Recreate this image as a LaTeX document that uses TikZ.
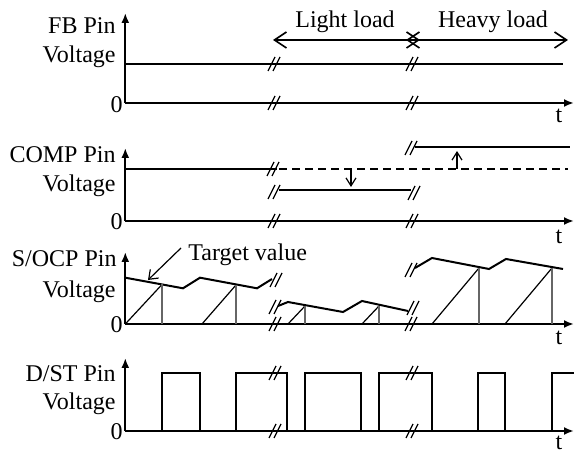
\documentclass[tikz,border=0pt]{standalone}
\usepackage{fontspec}
\setmainfont{Liberation Serif}
\usetikzlibrary{arrows.meta}
\begin{document}
\begin{tikzpicture}[x=0.5pt,y=-0.5pt,
  every node/.style={font=\fontsize{12}{14}\selectfont, inner sep=0pt},
  ax/.style={line width=1pt,-{Latex[length=5pt,width=4pt]}},
  sig/.style={line width=1pt},
  ramp/.style={line width=0.6pt},
  vert/.style={line width=0.6pt, black!60},
  lbl/.style={anchor=base east},
  brk/.pic={\draw[line width=0.6pt] (-6,7)--(1,-7) (-1,7)--(6,-7);},
  loadarr/.style={line width=0.8pt,{Straight Barb[length=6pt,width=8pt]}-{Straight Barb[length=6pt,width=8pt]}},
  shiftarr/.style={line width=0.6pt,-{Straight Barb[length=4pt,width=5pt]}}
]
\useasboundingbox (0,0) rectangle (574,454);

% ---------- Panel 1: FB ----------
\draw[ax] (125.3,103) -- (125.3,13);
\draw[ax] (125.3,103) -- (574,103);
\draw[sig] (125.3,64) -- (563,64);
\pic at (274,64) {brk};
\pic at (412,64) {brk};
\pic at (274,103) {brk};
\pic at (412,103) {brk};
\node[lbl] (fbA) at (116,34) {FB Pin};
\node[lbl] (fbB) at (116,63) {Voltage};
\node[lbl] (fbZ) at (123,113) {0};
\node[anchor=base] (fbT) at (559,123) {t};
\coordinate (la1) at (273,40);
\coordinate (la2) at (420,40);
\coordinate (ha1) at (406,40);
\coordinate (ha2) at (568,40);
\draw[loadarr] (la1) -- (la2);
\draw[loadarr] (ha1) -- (ha2);
\node[anchor=base] (lightL) at (345,28) {Light load};
\node[anchor=base] (heavyL) at (493,28) {Heavy load};

% ---------- Panel 2: COMP ----------
\draw[ax] (125.3,221) -- (125.3,148);
\draw[ax] (125.3,221) -- (574,221);
\draw[sig] (125.3,169) -- (277,169);
\draw[sig, dash pattern=on 4pt off 2.5pt] (279,169) -- (568,169);
\pic at (273,169) {brk};
\draw[sig] (279,190) -- (411,190);
\pic at (274,192) {brk};
\pic at (414,193) {brk};
\draw[sig] (415,147) -- (570,147);
\pic at (411,148) {brk};
\coordinate (dn1) at (351,169);
\coordinate (dn2) at (351,187);
\coordinate (up1) at (457,169);
\coordinate (up2) at (457,151);
\draw[shiftarr] (dn1) -- (dn2);
\draw[shiftarr] (up1) -- (up2);
\pic at (274,221) {brk};
\pic at (412,221) {brk};
\node[lbl] (cpA) at (116,163) {COMP Pin};
\node[lbl] (cpB) at (116,192) {Voltage};
\node[lbl] (cpZ) at (123,230) {0};
\node[anchor=base] (cpT) at (559,244) {t};

% ---------- Panel 3: S/OCP ----------
\draw[ax] (125.3,324) -- (125.3,252);
\draw[ax] (125.3,324) -- (574,324);
% target value line
\draw[sig] (125.3,277.7) -- (183,288.3) -- (200,277.7) -- (257,288.3) -- (272,279);
\pic at (276,280) {brk};
\draw[sig] (278,306) -- (288,302) -- (343,312) -- (362,301) -- (408,311);
\pic at (275,307) {brk};
\pic at (413,308) {brk};
\draw[sig] (415,268) -- (432,258) -- (489,269) -- (506,259) -- (563,269);
\pic at (411,270) {brk};
% ramps
\draw[ramp] (125.3,324) -- (162,284.5);
\draw[vert] (162,284.5) -- (162,324);
\draw[ramp] (202,324) -- (236,285);
\draw[vert] (236,285) -- (236,324);
\draw[ramp] (288,324) -- (305,306);
\draw[vert] (305,306) -- (305,324);
\draw[ramp] (362,324) -- (379,306);
\draw[vert] (379,306) -- (379,324);
\draw[ramp] (432,324) -- (479,268);
\draw[vert] (479,268) -- (479,324);
\draw[ramp] (505,324) -- (552,268);
\draw[vert] (552,268) -- (552,324);
\pic at (275,324) {brk};
\pic at (411,324) {brk};
\node[lbl] (ocA) at (117,267) {S/OCP Pin};
\node[lbl] (ocB) at (116,298) {Voltage};
\node[lbl] (ocZ) at (123,333) {0};
\node[anchor=base] (ocT) at (559,345) {t};
\node[anchor=base west] (tv) at (188,261) {Target value};
\coordinate (tvS) at (181,248);
\coordinate (tvE) at (148,280);
\draw[line width=0.6pt,-{Straight Barb[length=4pt,width=6pt]}] (tvS) -- (tvE);

% ---------- Panel 4: D/ST ----------
\draw[ax] (125.3,431) -- (125.3,358);
\draw[ax] (125.3,431) -- (574,431);
\draw[sig] (162,431) -- (162,373) -- (200,373) -- (200,431)
           (236,431) -- (236,373) -- (287,373) -- (287,431)
           (305,431) -- (305,373) -- (361,373) -- (361,431)
           (379,431) -- (379,373) -- (432,373) -- (432,431)
           (478,431) -- (478,373) -- (505,373) -- (505,431)
           (552,431) -- (552,373) -- (574,373);
\pic at (275,373) {brk};
\pic at (412,373) {brk};
\pic at (275,431) {brk};
\pic at (412,431) {brk};
\node[lbl] (dsA) at (116,382) {D/ST Pin};
\node[lbl] (dsB) at (116,410) {Voltage};
\node[lbl] (dsZ) at (123,440) {0};
\node[anchor=base] (dsT) at (559,450) {t};
\end{tikzpicture}
\end{document}
